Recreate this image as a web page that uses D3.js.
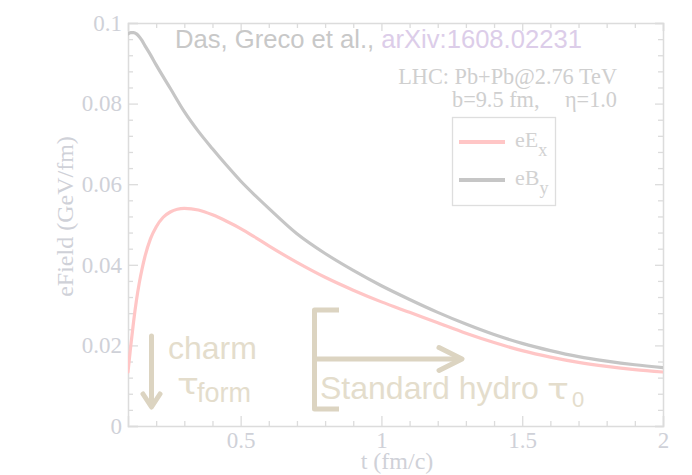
<!DOCTYPE html>
<html>
<head>
<meta charset="utf-8">
<script src="https://cdn.jsdelivr.net/npm/d3@7"></script>
<style>
  html, body { margin: 0; padding: 0; background: #fff; }
  svg { display: block; }
</style>
</head>
<body>
<svg id="chart" width="692" height="475"></svg>
<script>
// Time grid (fm/c) and field strengths (GeV/fm)
const tB  = [0.10, 0.11, 0.12, 0.13, 0.14, 0.15, 0.16, 0.18, 0.20, 0.25, 0.30, 0.35, 0.40, 0.45, 0.50, 0.55, 0.60, 0.70, 0.80, 0.90, 1.00, 1.10, 1.20, 1.30, 1.40, 1.50, 1.60, 1.70, 1.80, 1.90, 2.00];
const eBy = [0.0973, 0.0976, 0.0976, 0.0973, 0.0966, 0.0956, 0.0944, 0.0921, 0.0896, 0.0838, 0.0780, 0.0731, 0.0688, 0.0647, 0.0608, 0.0573, 0.0540, 0.0477, 0.0428, 0.0386, 0.0348, 0.0314, 0.0282, 0.0253, 0.0227, 0.0205, 0.0187, 0.0172, 0.0161, 0.0152, 0.0145];

const tE  = [0.10, 0.11, 0.12, 0.13, 0.14, 0.15, 0.16, 0.18, 0.20, 0.225, 0.25, 0.275, 0.30, 0.35, 0.40, 0.45, 0.50, 0.55, 0.60, 0.70, 0.80, 0.90, 1.00, 1.10, 1.20, 1.30, 1.40, 1.50, 1.60, 1.70, 1.80, 1.90, 2.00];
const eEx = [0.0134, 0.0200, 0.0260, 0.0312, 0.0355, 0.0390, 0.0420, 0.0465, 0.0494, 0.0518, 0.0531, 0.0538, 0.0540, 0.0536, 0.0524, 0.0508, 0.0490, 0.0469, 0.0447, 0.0406, 0.0369, 0.0337, 0.0308, 0.0282, 0.0256, 0.0230, 0.0207, 0.0187, 0.0171, 0.0158, 0.0148, 0.0140, 0.0134];

const xMajorTicks = [0.5, 1, 1.5, 2];
const yMajorTicks = [0, 0.02, 0.04, 0.06, 0.08, 0.1];
const xTickLabels = ["0.5", "1", "1.5", "2"];
const yTickLabels = ["0", "0.02", "0.04", "0.06", "0.08", "0.1"];

const seriesNames = ["eE", "eB"];
const seriesSubs  = ["x", "y"];
const seriesColors = ["#ffc6c6", "#c6c6c6"];

const svg = d3.select("#chart");
const plotLeft = 128, plotRight = 663, plotTop = 23, plotBottom = 426;

const x = d3.scaleLinear().domain([0.1, 2]).range([plotLeft, plotRight]);
const y = d3.scaleLinear().domain([0, 0.1]).range([plotBottom, plotTop]);

const axisColor = "#dcdcdc";
const labelColor = "#cfd1d8";
const serif = "'Liberation Serif', 'Times New Roman', serif";
const sans = "'Liberation Sans', Arial, sans-serif";

// minor tick positions
const xMinor = d3.range(2, 20).map(i => i / 10).filter(v => !xMajorTicks.some(m => Math.abs(m - v) < 1e-9));
const yMinor = d3.range(1, 25).map(i => i * 0.004).filter(v => !yMajorTicks.some(m => Math.abs(m - v) < 1e-9));

function styleAxis(g) {
  g.selectAll(".domain").attr("stroke", axisColor).attr("stroke-width", 1.5);
  g.selectAll(".tick line").attr("stroke", axisColor).attr("stroke-width", 1.3);
  g.selectAll(".tick text").attr("fill", labelColor).attr("font-family", serif).attr("font-size", 23);
}

// bottom axis
svg.append("g").attr("transform", `translate(0,${plotBottom})`)
  .call(d3.axisBottom(x).tickValues(xMajorTicks).tickSize(-10).tickPadding(6)
    .tickFormat((d, i) => xTickLabels[i]))
  .call(styleAxis);
svg.append("g").attr("transform", `translate(0,${plotBottom})`)
  .call(d3.axisBottom(x).tickValues(xMinor).tickSize(-5).tickFormat(""))
  .call(styleAxis).select(".domain").remove();

// top axis
svg.append("g").attr("transform", `translate(0,${plotTop})`)
  .call(d3.axisTop(x).tickValues(xMajorTicks).tickSize(-8).tickFormat(""))
  .call(styleAxis);
svg.append("g").attr("transform", `translate(0,${plotTop})`)
  .call(d3.axisTop(x).tickValues(xMinor).tickSize(-5).tickFormat(""))
  .call(styleAxis).select(".domain").remove();

// left axis
svg.append("g").attr("transform", `translate(${plotLeft},0)`)
  .call(d3.axisLeft(y).tickValues(yMajorTicks).tickSize(-10).tickPadding(6)
    .tickFormat((d, i) => yTickLabels[i]))
  .call(styleAxis);
svg.append("g").attr("transform", `translate(${plotLeft},0)`)
  .call(d3.axisLeft(y).tickValues(yMinor).tickSize(-5).tickFormat(""))
  .call(styleAxis).select(".domain").remove();

// right axis
svg.append("g").attr("transform", `translate(${plotRight},0)`)
  .call(d3.axisRight(y).tickValues(yMajorTicks).tickSize(-8).tickFormat(""))
  .call(styleAxis);
svg.append("g").attr("transform", `translate(${plotRight},0)`)
  .call(d3.axisRight(y).tickValues(yMinor).tickSize(-5).tickFormat(""))
  .call(styleAxis).select(".domain").remove();

// axis titles
svg.append("text")
  .attr("x", 397).attr("y", 469)
  .attr("text-anchor", "middle")
  .attr("font-family", serif).attr("font-size", 24).attr("fill", labelColor)
  .text("t (fm/c)");
svg.append("text")
  .attr("transform", `translate(73,${(plotTop + plotBottom) / 2 - 8}) rotate(-90)`)
  .attr("text-anchor", "middle")
  .attr("font-family", serif).attr("font-size", 24).attr("fill", labelColor)
  .text("eField (GeV/fm)");

// curves
svg.append("clipPath").attr("id", "plotClip")
  .append("rect").attr("x", plotLeft).attr("y", plotTop)
  .attr("width", plotRight - plotLeft).attr("height", plotBottom - plotTop);

const line = d3.line().x(d => x(d[0])).y(d => y(d[1])).curve(d3.curveMonotoneX);
const curves = [d3.zip(tE, eEx), d3.zip(tB, eBy)];
svg.append("g").attr("clip-path", "url(#plotClip)")
  .selectAll("path").data(curves).join("path")
  .attr("d", line)
  .attr("fill", "none")
  .attr("stroke", (d, i) => seriesColors[i])
  .attr("stroke-width", 3.2)
  .attr("stroke-linecap", "round");

// citation line
const cite = svg.append("text")
  .attr("x", 175).attr("y", 48)
  .attr("font-family", sans).attr("font-size", 25.6);
cite.append("tspan").attr("fill", "#c8c8c8").text("Das, Greco et al., ");
cite.append("tspan").attr("fill", "#dccde9").text("arXiv:1608.02231");

// collision system
svg.append("text")
  .attr("x", 617).attr("y", 84).attr("text-anchor", "end")
  .attr("font-family", serif).attr("font-size", 22.3).attr("fill", "#cfcfcf")
  .text("LHC: Pb+Pb@2.76 TeV");
svg.append("text")
  .attr("x", 452).attr("y", 107)
  .attr("font-family", serif).attr("font-size", 22.3).attr("fill", "#cfcfcf")
  .text("b=9.5 fm,");
svg.append("text")
  .attr("x", 617).attr("y", 107).attr("text-anchor", "end")
  .attr("font-family", serif).attr("font-size", 22.3).attr("fill", "#cfcfcf")
  .text("η=1.0");

// legend
const legend = svg.append("g");
legend.append("rect")
  .attr("x", 452.5).attr("y", 117.5).attr("width", 103).attr("height", 88)
  .attr("fill", "#fff").attr("stroke", "#dedede").attr("stroke-width", 1.3);
const legY = [142, 180];
seriesNames.forEach((name, i) => {
  legend.append("line")
    .attr("x1", 459).attr("x2", 505).attr("y1", legY[i]).attr("y2", legY[i])
    .attr("stroke", seriesColors[i]).attr("stroke-width", 4);
  const t = legend.append("text")
    .attr("x", 515).attr("y", legY[i] + 5)
    .attr("font-family", serif).attr("font-size", 22).attr("fill", "#d2d2d2");
  t.append("tspan").text(name);
  t.append("tspan").attr("dy", 9).attr("font-size", 18).text(seriesSubs[i]);
});

// annotations
const annColor = "#e4ddcc";
const arrowColor = "#dcd4c1";
const ann = svg.append("g").attr("fill", "none").attr("stroke", arrowColor)
  .attr("stroke-width", 5).attr("stroke-linecap", "round").attr("stroke-linejoin", "round");
// downward arrow
ann.append("path").attr("d", "M151.5,336 V405");
ann.append("path").attr("d", "M143,394 L151.5,407 L160,394");
// bracket with rightward arrow
ann.append("path").attr("d", "M339,310 H314.5 V409 H339").attr("stroke-linecap", "butt");
ann.append("path").attr("d", "M314.5,359 H460");
ann.append("path").attr("d", "M439,347.5 L462,359 L439,370.5");

svg.append("text")
  .attr("x", 168).attr("y", 359)
  .attr("font-family", sans).attr("font-size", 32).attr("fill", annColor)
  .text("charm");
// tau glyphs, stretched a little wider than the text face
svg.append("text")
  .attr("transform", "translate(177,394) scale(1.3,1)")
  .attr("font-family", "'DejaVu Sans', sans-serif").attr("font-size", 28).attr("fill", annColor)
  .text("τ");
svg.append("text")
  .attr("x", 197).attr("y", 402)
  .attr("font-family", sans).attr("font-size", 27).attr("fill", annColor)
  .text("form");

svg.append("text")
  .attr("x", 320).attr("y", 399)
  .attr("font-family", sans).attr("font-size", 32).attr("fill", annColor)
  .text("Standard hydro");
svg.append("text")
  .attr("transform", "translate(547,399) scale(1.3,1)")
  .attr("font-family", "'DejaVu Sans', sans-serif").attr("font-size", 28).attr("fill", annColor)
  .text("τ");
svg.append("text")
  .attr("x", 572).attr("y", 407)
  .attr("font-family", sans).attr("font-size", 22).attr("fill", annColor)
  .text("0");
</script>
</body>
</html>
